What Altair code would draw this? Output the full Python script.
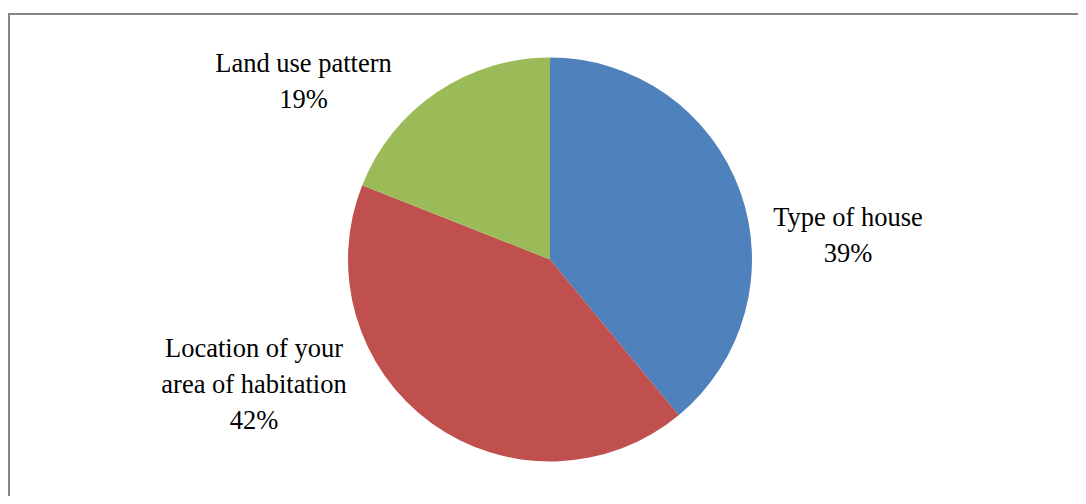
import altair as alt
import pandas as pd

categories = ["Type of house", "Location of your area of habitation", "Land use pattern"]
values = [39, 42, 19]
colors = ["#4F81BD", "#C0504D", "#9BBB59"]
label_lines = {
    "Type of house": ["Type of house"],
    "Location of your area of habitation": ["Location of your", "area of habitation"],
    "Land use pattern": ["Land use pattern"],
}

df = pd.DataFrame({
    "category": categories,
    "value": values,
    "order": list(range(len(categories))),
})
df["text"] = ["\n".join(label_lines[c] + [f"{v}%"]) for c, v in zip(categories, values)]

W, H = 1070, 488
CX, CY, R = 542, 251.5, 202
FONT = "Liberation Serif"

base = alt.Chart(df)

pie = base.mark_arc(outerRadius=R).encode(
    theta=alt.Theta("value:Q", stack=True),
    order=alt.Order("order:Q"),
    color=alt.Color("category:N", scale=alt.Scale(domain=categories, range=colors), legend=None),
    x=alt.value(CX),
    y=alt.value(CY),
)

label_pos = {
    "Type of house": (840, 209.5),
    "Location of your area of habitation": (246, 341),
    "Land use pattern": (295.5, 56),
}

labels = []
for c in categories:
    lx, ly = label_pos[c]
    labels.append(
        base.transform_filter(alt.datum.category == c).mark_text(
            font=FONT, fontSize=26.5, color="black",
            lineBreak="\n", lineHeight=36, align="center", baseline="middle",
        ).encode(text="text:N", x=alt.value(lx), y=alt.value(ly))
    )

border_top = base.mark_rule(color="#868686", strokeWidth=2).encode(
    x=alt.value(0), x2=alt.value(W + 20), y=alt.value(6)
)
border_left = base.mark_rule(color="#868686", strokeWidth=2).encode(
    x=alt.value(1), y=alt.value(5), y2=alt.value(H + 20)
)

chart = alt.layer(border_top, border_left, pie, *labels).properties(
    width=W, height=H, padding=0, autosize=alt.AutoSizeParams(type="none"),
    background="white",
).configure_view(stroke=None)

chart.save("out.html", embed_options={"renderer": "svg", "actions": False})
